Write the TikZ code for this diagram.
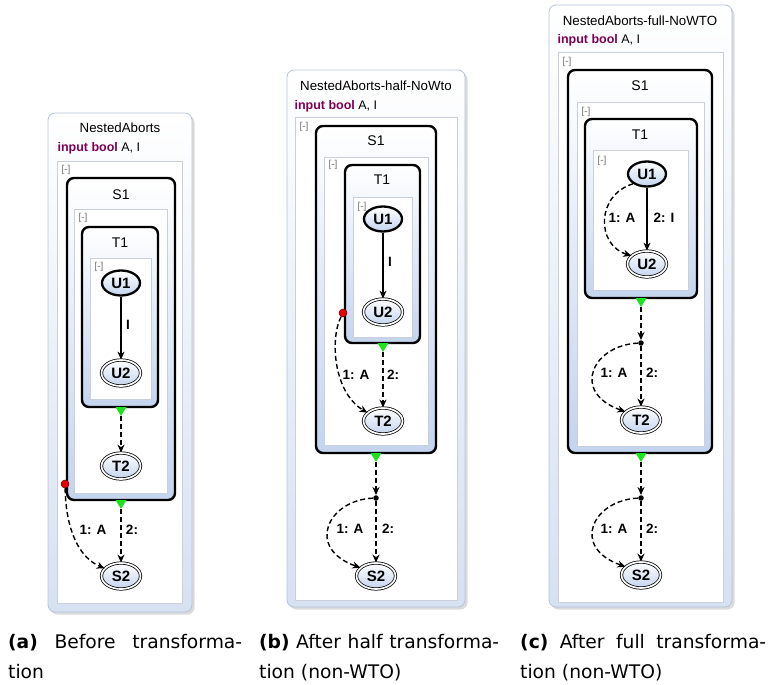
\documentclass[tikz,border=0pt]{standalone}
\usepackage{fontspec}
\setmainfont{Liberation Sans}
\newfontfamily\capfont{DejaVu Sans}
\usetikzlibrary{arrows.meta,shapes.geometric}
\definecolor{kw}{HTML}{7F0055}
\definecolor{panelb}{HTML}{B4C3DC}
\definecolor{panelf}{HTML}{D6E1F2}
\definecolor{regb}{HTML}{C9D0DC}
\definecolor{stf}{HTML}{C4D4EE}
\definecolor{trig}{HTML}{1EE21E}
\tikzset{
  panel/.style={draw=panelb, line width=0.8pt, rounded corners=7pt, top color=white, bottom color=panelf},
  pshadow/.style={fill=black!14, rounded corners=7pt},
  region/.style={draw=regb, fill=white, line width=0.6pt},
  sstate/.style={draw=black, line width=2.4pt, rounded corners=7pt, top color=white, bottom color=stf},
  st/.style={ellipse, draw=black, top color=white, bottom color=stf, inner sep=0pt, font=\bfseries\fontsize{15}{15}\selectfont},
  init/.style={st, line width=2.3pt, minimum width=38pt, minimum height=25pt},
  fin/.style={st, line width=0.75pt, double=white, double distance=1.7pt, minimum width=39pt, minimum height=26pt},
  junc/.style={circle, fill=black, inner sep=0pt, minimum size=5.5pt},
  reddot/.style={circle, fill=red!90!black, draw=red!40!black, line width=0.5pt, inner sep=0pt, minimum size=8pt},
  ttl/.style={font=\fontsize{13.3}{14}\selectfont},
  decl/.style={anchor=west, font=\fontsize{12.5}{13}\selectfont},
  coll/.style={anchor=west, text=black!55, font=\fontsize{10}{10}\selectfont},
  sname/.style={font=\fontsize{14}{14}\selectfont},
  lbl/.style={font=\bfseries\fontsize{13.5}{13.5}\selectfont},
  tip/.style={-{Stealth[length=8pt,width=7pt,inset=2.5pt]}},
  sedge/.style={tip, line width=1.2pt},
  dedge/.style={tip, line width=1.4pt, dash pattern=on 5pt off 3pt},
  capt/.style={anchor=base west, inner sep=0pt, font=\capfont\fontsize{18.7}{18.7}\selectfont},
}
\newcommand\greentri[3]{%
  \fill[trig] (#2-5.5,#3) -- (#2+5.5,#3) -- (#2,#3+9) -- cycle;
  \coordinate (#1) at (#2,#3+9);}
\begin{document}
\begin{tikzpicture}[x=1pt,y=-1pt]
\useasboundingbox (0,0) rectangle (774,685);

% ================= (a) =================
\fill[pshadow] (50.5,115.5) rectangle (194.5,614.5);
\draw[panel] (48,113) rectangle (192,612);
\node[ttl] (aTitle) at (120,128) {NestedAborts};
\node[decl] (aDecl) at (54,148) {\textcolor{kw}{\textbf{input bool}} A, I};
\draw[region] (57,161) rectangle (182,603);
\node[coll] (aC1) at (58,170) {[-]};
\draw[sstate] (67,178) rectangle (175,500);
\node[sname] (aS1) at (121,195) {S1};
\draw[region] (74,209) rectangle (167,493);
\node[coll] (aC2) at (75,218) {[-]};
\draw[sstate] (82,227) rectangle (158,407);
\node[sname] (aT1) at (120,243) {T1};
\draw[region] (90,258) rectangle (151,399);
\node[coll] (aC3) at (91,267) {[-]};
\node[init] (aU1) at (121,283) {U1};
\node[fin] (aU2) at (121,373) {U2};
\node[fin] (aT2) at (121,466) {T2};
\node[fin] (aS2) at (121,576) {S2};
\draw[sedge] (aU1) -- (aU2);
\node[lbl] (aLI) at (128,325) {I};
\greentri{aTg}{121}{407}
\draw[dedge] (aTg) -- (aT2);
\greentri{aSg}{121}{500}
\draw[dedge] (aSg) -- (aS2);
\node[reddot] (aRed) at (65,484) {};
\draw[dedge] (aRed) .. controls (66,532) and (80,558) .. (aS2.155);
\node[lbl] (aL1) at (93,530) {1: A};
\node[lbl] (aL2) at (132,530) {2:};

% ================= (b) =================
\fill[pshadow] (289.5,72.5) rectangle (467.5,609.5);
\draw[panel] (287,70) rectangle (465,607);
\node[ttl] (bTitle) at (376,86) {NestedAborts-half-NoWto};
\node[decl] (bDecl) at (291,106) {\textcolor{kw}{\textbf{input bool}} A, I};
\draw[region] (295,117) rectangle (457,600);
\node[coll] (bC1) at (296,127) {[-]};
\draw[sstate] (316,126) rectangle (436,453);
\node[sname] (bS1) at (376,141) {S1};
\draw[region] (324,157) rectangle (428,445);
\node[coll] (bC2) at (325,165) {[-]};
\draw[sstate] (345,165) rectangle (420,343);
\node[sname] (bT1) at (382,180) {T1};
\draw[region] (353,197) rectangle (412,337);
\node[coll] (bC3) at (354,207) {[-]};
\node[init] (bU1) at (383,219) {U1};
\node[fin] (bU2) at (383,312) {U2};
\node[fin] (bT2) at (383,421) {T2};
\node[fin] (bS2) at (376,576) {S2};
\draw[sedge] (bU1) -- (bU2);
\node[lbl] (bLI) at (390,262) {I};
\greentri{bTg}{383}{343}
\draw[dedge] (bTg) -- (bT2);
\node[reddot] (bRed) at (343,313) {};
\draw[dedge] (bRed) .. controls (330,338) and (333,392) .. (bT2.152);
\node[lbl] (bL1) at (356,375) {1: A};
\node[lbl] (bL2) at (393,375) {2:};
\greentri{bSg}{376}{453}
\node[junc] (bJ) at (376,498) {};
\draw[dedge] (bSg) -- (bJ);
\draw[dedge] (bJ) -- (bS2);
\draw[dedge] (bJ) .. controls (328,500) and (305,548) .. (bS2.152);
\node[lbl] (bL3) at (350,529) {1: A};
\node[lbl] (bL4) at (388,529) {2:};

% ================= (c) =================
\fill[pshadow] (551.5,7.5) rectangle (734.5,609.5);
\draw[panel] (549,5) rectangle (732,607);
\node[ttl] (cTitle) at (640,21) {NestedAborts-full-NoWTO};
\node[decl] (cDecl) at (554,40) {\textcolor{kw}{\textbf{input bool}} A, I};
\draw[region] (558,52) rectangle (723,602);
\node[coll] (cC1) at (559,62) {[-]};
\draw[sstate] (568,70) rectangle (712,453);
\node[sname] (cS1) at (640,86) {S1};
\draw[region] (577,102) rectangle (704,446);
\node[coll] (cC2) at (578,112) {[-]};
\draw[sstate] (585,119) rectangle (697,298);
\node[sname] (cT1) at (640,135) {T1};
\draw[region] (593,150) rectangle (688,290);
\node[coll] (cC3) at (594,161) {[-]};
\node[init] (cU1) at (647,174) {U1};
\node[fin] (cU2) at (647,264) {U2};
\node[fin] (cT2) at (641,420) {T2};
\node[fin] (cS2) at (641,575) {S2};
\draw[sedge] (cU1) -- (cU2);
\draw[dedge] (cU1.215) .. controls (596,195) and (596,245) .. (cU2.152);
\node[lbl] (cLa) at (622,218) {1: A};
\node[lbl] (cLb) at (664,218) {2: I};
\greentri{cTg}{641}{298}
\node[junc] (cJ1) at (641,343) {};
\draw[dedge] (cTg) -- (cJ1);
\draw[dedge] (cJ1) -- (cT2);
\draw[dedge] (cJ1) .. controls (593,345) and (570,392) .. (cT2.152);
\node[lbl] (cL1) at (614,373) {1: A};
\node[lbl] (cL2) at (652,373) {2:};
\greentri{cSg}{641}{453}
\node[junc] (cJ2) at (641,498) {};
\draw[dedge] (cSg) -- (cJ2);
\draw[dedge] (cJ2) -- (cS2);
\draw[dedge] (cJ2) .. controls (593,500) and (570,547) .. (cS2.152);
\node[lbl] (cL3) at (614,529) {1: A};
\node[lbl] (cL4) at (652,529) {2:};

% ================= captions =================
\node[capt] (capA1) at (8,648) {\makebox[234pt][s]{\textbf{(a)} Before transforma-}};
\node[capt] (capA2) at (8,678) {tion};
\node[capt] (capB1) at (259,648) {\makebox[240pt][s]{\textbf{(b)} After half transforma-}};
\node[capt] (capB2) at (259,678) {tion (non-WTO)};
\node[capt] (capC1) at (520,648) {\makebox[246pt][s]{\textbf{(c)} After full transforma-}};
\node[capt] (capC2) at (520,678) {tion (non-WTO)};
\end{tikzpicture}
\end{document}
